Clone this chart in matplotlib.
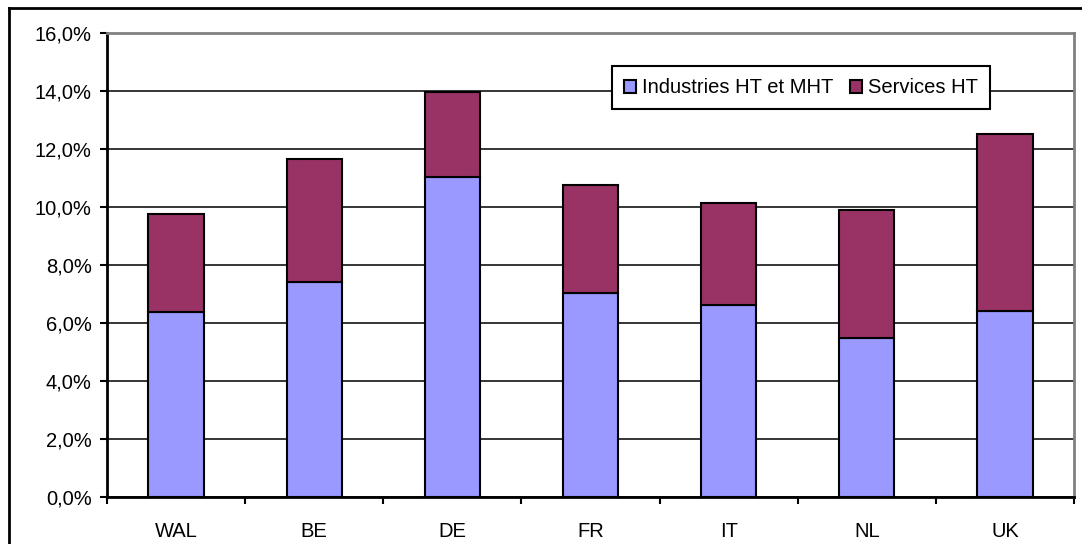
import matplotlib
matplotlib.use('Agg')
import matplotlib.pyplot as plt
import numpy as np
from matplotlib.lines import Line2D

plt.rcParams['font.family'] = ['Liberation Sans', 'DejaVu Sans']

# data (in %)
countries = ['WAL', 'BE', 'DE', 'FR', 'IT', 'NL', 'UK']
industries = [6.36, 7.39, 11.03, 7.03, 6.62, 5.46, 6.41]
services = [3.38, 4.27, 2.92, 3.73, 3.52, 4.42, 6.09]
y_ticks = [0, 2, 4, 6, 8, 10, 12, 14, 16]

W, H = 1082, 544
fig = plt.figure(figsize=(W / 100, H / 100), dpi=100)
ax = fig.add_axes([107 / W, 1 - 496.7 / H, (1074 - 107) / W, (496.7 - 32.7) / H])

x = np.arange(len(countries))
ax.bar(x, industries, width=0.4, color='#9999FF', edgecolor='black', linewidth=1.5,
       label='Industries HT et MHT', zorder=3)
ax.bar(x, services, width=0.4, bottom=industries, color='#993366', edgecolor='black',
       linewidth=1.5, label='Services HT', zorder=3)

ax.set_xlim(-0.5, len(countries) - 0.5)
ax.set_ylim(0, 16)
ax.set_yticks(y_ticks)
ax.set_yticklabels([f'{v:.1f}%'.replace('.', ',') for v in y_ticks])
ax.yaxis.grid(True, color='black', linewidth=1.1, zorder=0)
ax.set_axisbelow(True)

# ticks on category boundaries, labels centered
ax.set_xticks(np.arange(-0.5, len(countries), 1))
ax.set_xticklabels([])
ax.set_xticks(x, minor=True)
ax.set_xticklabels(countries, minor=True)
ax.tick_params(axis='x', which='minor', length=0, pad=18, labelsize=14.5)
ax.tick_params(axis='x', which='major', length=5, width=1.5, direction='out')
ax.tick_params(axis='y', length=5, width=1.5, pad=6, labelsize=14.5)

for s in ['left', 'bottom']:
    ax.spines[s].set_linewidth(2)
    ax.spines[s].set_color('black')
for s in ['top', 'right']:
    ax.spines[s].set_linewidth(2)
    ax.spines[s].set_color('#808080')

leg = ax.legend(loc='center', bbox_to_anchor=(0.7177, 0.881), ncol=2, fontsize=14.5,
                frameon=True, fancybox=False, edgecolor='black', framealpha=1,
                handlelength=0.6, handleheight=0.6, handletextpad=0.3,
                columnspacing=0.8, borderpad=0.6, borderaxespad=0)
leg.get_frame().set_linewidth(1.5)
leg.set_zorder(5)

# outer chart frame
fig.add_artist(Line2D([9 / W, 9 / W], [0, 1 - 8 / H], color='black', linewidth=2,
                      transform=fig.transFigure))
fig.add_artist(Line2D([9 / W, 1], [1 - 8 / H, 1 - 8 / H], color='black', linewidth=2,
                      transform=fig.transFigure))

fig.savefig('out.png', dpi=100)
